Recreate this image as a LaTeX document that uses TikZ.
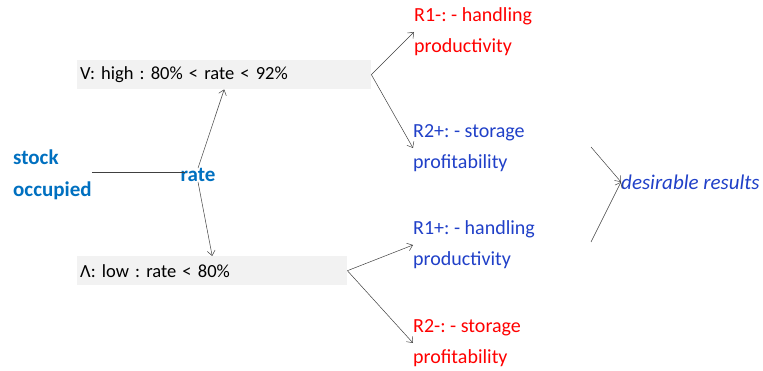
\documentclass[tikz,border=0pt]{standalone}
\usepackage{fontspec}
\setmainfont{Carlito}
\usetikzlibrary{positioning}
\usetikzlibrary{arrows.meta}
\definecolor{stockblue}{HTML}{0070C0}
\definecolor{goodblue}{HTML}{2040C8}
\definecolor{badred}{HTML}{FF0000}

\begin{document}
\frenchspacing
\begin{tikzpicture}[
    x=1pt, y=-1pt,
    keynode/.style={font=\fontsize{21}{32}\selectfont\bfseries, text=stockblue, align=left, inner sep=0pt},
    levelbox/.style={fill=gray!10, anchor=north west, minimum height=29pt, inner sep=3pt, align=left, font=\fontsize{18.5}{20}\selectfont},
    resnode/.style={anchor=west, align=left, inner sep=0pt, font=\fontsize{20}{31}\selectfont},
    arrow/.style={-{Straight Barb[length=5pt,width=8pt]}, black!75, line width=0.5pt}
    ]
    \useasboundingbox (0,0) rectangle (763,371);
    %Nodes
    \node[keynode, anchor=west] (stock) at (13,175) {stock\\occupied};
    \node[keynode] (rate) at (198,175) {rate};

    \node[levelbox, text width=288pt] (high) at (77,60) {V: high : 80\% < rate < 92\%};
    \node[levelbox, text width=264pt] (low) at (77,256) {Λ: low : rate < 80\%};

    \node[resnode, text=badred] (R1m) at (414,32) {R1-: - handling\\productivity};
    \node[resnode, text=goodblue] (R2p) at (413,148) {R2+: - storage\\profitability};
    \node[resnode, text=goodblue] (R1p) at (413,245) {R1+: - handling\\productivity};
    \node[resnode, text=badred] (R2m) at (413,343) {R2-: - storage\\profitability};

    \node[resnode, text=goodblue, font=\fontsize{21}{24}\selectfont\itshape] (result) at (621,182) {desirable results};

    \coordinate (fromR2p) at (591,147);
    \coordinate (fromR1p) at (591,242);

    %Lines
    \draw[black!75, line width=0.5pt] (stock.east |- 0,172) -- (185,172);
    \draw[arrow] (rate.north) -- (high.south);
    \draw[arrow] (rate.south) -- (low.north);

    \draw[arrow] (high.east) -- (R1m.west);
    \draw[arrow] (high.east) -- (R2p.west);
    \draw[arrow] (low.east) -- (R1p.west);
    \draw[arrow] (low.east) -- (R2m.west);

    \draw[arrow] (fromR2p) -- (result.west);
    \draw[arrow] (fromR1p) -- (result.west);
\end{tikzpicture}
\end{document}
